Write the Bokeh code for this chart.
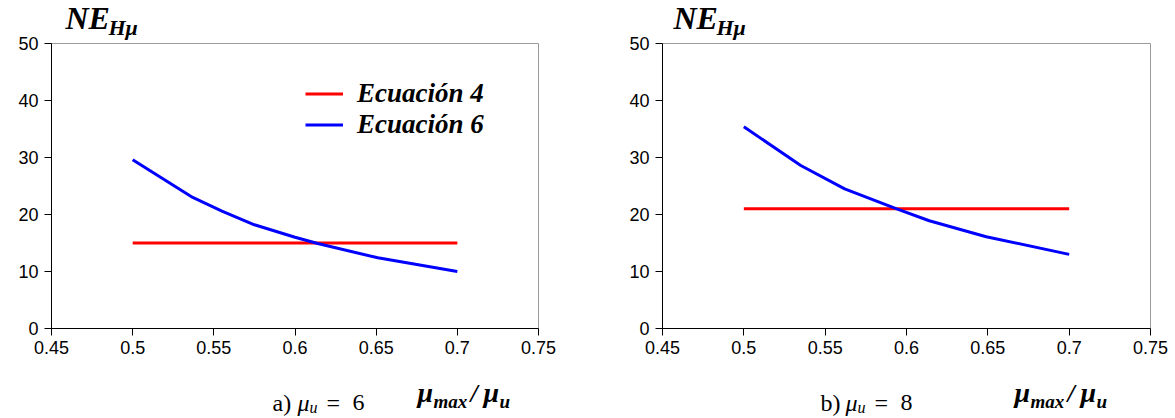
from bokeh.plotting import figure
from bokeh.models import Range1d, FixedTicker, Label, Legend, LegendItem, GridBox
from bokeh.embed import file_html
from bokeh.resources import INLINE

# ---- data ----
x_ticks = [0.45, 0.5, 0.55, 0.6, 0.65, 0.7, 0.75]
x_tick_labels = ["0.45", "0.5", "0.55", "0.6", "0.65", "0.7", "0.75"]
y_ticks = [0, 10, 20, 30, 40, 50]

a_x4 = [0.5, 0.7]
a_y4 = [15.0, 15.0]
a_x6 = [0.5, 0.537, 0.555, 0.575, 0.6, 0.614, 0.651, 0.7]
a_y6 = [29.6, 23.0, 20.6, 18.2, 16.0, 14.9, 12.4, 10.0]

b_x4 = [0.5, 0.7]
b_y4 = [21.0, 21.0]
b_x6 = [0.5, 0.535, 0.562, 0.594, 0.614, 0.649, 0.7]
b_y6 = [35.4, 28.6, 24.5, 21.0, 18.9, 16.1, 13.0]

series_names = ["Ecuación 4", "Ecuación 6"]
panel_captions = [("a)", "6"), ("b)", "8")]

H = 418
MB = 90
MT = 43

SERIF = "Liberation Serif"
SANS = "Liberation Sans"


def make_panel(width, ml, mr, x4, y4, x6, y6):
    p = figure(width=width, height=H, output_backend="svg", toolbar_location=None,
               x_range=Range1d(0.45, 0.75), y_range=Range1d(0, 50),
               min_border_left=ml, min_border_right=mr,
               min_border_top=MT, min_border_bottom=MB)
    p.frame_align = False
    p.grid.visible = False
    p.outline_line_color = "#9a9a9a"
    p.outline_line_width = 1
    p.background_fill_color = "white"
    p.border_fill_color = "white"

    p.xaxis.ticker = FixedTicker(ticks=x_ticks)
    p.xaxis.major_label_overrides = {t: l for t, l in zip(x_ticks, x_tick_labels)}
    p.yaxis.ticker = FixedTicker(ticks=y_ticks)
    for ax in (p.xaxis[0], p.yaxis[0]):
        ax.axis_line_color = "black"
        ax.axis_line_width = 1
        ax.major_tick_line_color = "black"
        ax.major_tick_out = 7
        ax.major_tick_in = 0
        ax.minor_tick_out = 0
        ax.minor_tick_in = 0
        ax.major_label_text_font = SANS
        ax.major_label_text_font_size = "18px"
        ax.major_label_text_color = "black"
    p.xaxis.major_label_standoff = 5
    p.yaxis.major_label_standoff = 6

    r4 = p.line(x4, y4, line_color="#ff0000", line_width=3)
    r6 = p.line(x6, y6, line_color="#0000ff", line_width=3)
    return p, r4, r6


def make_overlay(width):
    ov = figure(width=width, height=H, output_backend="svg", toolbar_location=None,
                x_range=Range1d(0, width), y_range=Range1d(H, 0),
                x_axis_type=None, y_axis_type=None, title=None,
                min_border=0, min_border_left=0, min_border_right=0,
                min_border_top=0, min_border_bottom=0)
    ov.frame_align = False
    ov.outline_line_color = None
    ov.background_fill_alpha = 0
    ov.border_fill_alpha = 0
    return ov


def add_text(ov, X, Y, text, size, style="normal", font=SERIF):
    ov.add_layout(Label(x=X, y=Y, text=text, text_font=font,
                        text_font_size=f"{size}px", text_font_style=style,
                        text_color="black", text_align="left",
                        text_baseline="alphabetic"))


def add_texts(ov, dx, cap, cap_x, mu_x):
    add_text(ov, 65 + dx, 17, "NE", 32, "bold italic")
    add_text(ov, 108 + dx, 27, "Hμ", 22, "bold italic")
    # caption
    add_text(ov, cap_x, 402, cap[0], 24)
    add_text(ov, cap_x + 25, 402, "μ", 24, "italic")
    add_text(ov, cap_x + 37, 407, "u", 16, "italic")
    add_text(ov, cap_x + 54, 402, "=", 24)
    add_text(ov, cap_x + 80, 402, cap[1], 24)
    # axis title
    add_text(ov, mu_x, 392, "μ", 28, "bold italic")
    add_text(ov, mu_x + 16, 401, "max", 19, "bold italic")
    add_text(ov, mu_x + 53, 393, "/", 26, "bold italic")
    add_text(ov, mu_x + 66, 392, "μ", 28, "bold italic")
    add_text(ov, mu_x + 82, 401, "u", 19, "bold italic")


# ---- left panel ----
ML1, MR1 = 51, 62
p1, r14, r16 = make_panel(600, ML1, MR1, a_x4, a_y4, a_x6, a_y6)
legend = Legend(items=[LegendItem(label=series_names[0], renderers=[r14]),
                       LegendItem(label=series_names[1], renderers=[r16])],
                location=(254, 188), padding=0, margin=0, spacing=0,
                glyph_width=38, glyph_height=27, label_height=27,
                label_standoff=14, border_line_color=None,
                background_fill_alpha=0,
                label_text_font=SERIF, label_text_font_style="bold italic",
                label_text_font_size="27px", label_text_color="black")
p1.add_layout(legend)
ov1 = make_overlay(600)
add_texts(ov1, 0, panel_captions[0], 272, 417)

# ---- right panel ----
ML2, MR2 = 62, 25
p2, r24, r26 = make_panel(575, ML2, MR2, b_x4, b_y4, b_x6, b_y6)
ov2 = make_overlay(575)
add_texts(ov2, 8, panel_captions[1], 220, 414)

grid = GridBox(children=[(p1, 0, 0), (ov1, 0, 0), (p2, 0, 1), (ov2, 0, 1)])
open("out.html", "w").write(file_html(grid, INLINE))
